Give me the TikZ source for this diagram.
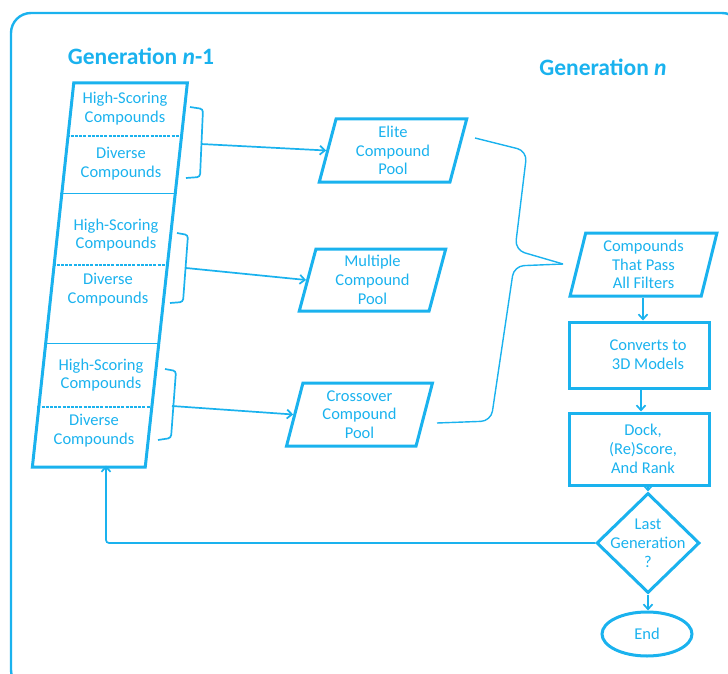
\documentclass[tikz,border=0pt]{standalone}
\usepackage{fontspec}
\setmainfont{Carlito}
\usetikzlibrary{shapes.geometric,arrows.meta,calc}
\definecolor{flow}{HTML}{1AB2EE}
\begin{document}
\begin{tikzpicture}[x=1pt,y=-1pt,
  every node/.style={text=flow,font=\fontsize{16.5}{18.8}\selectfont,align=center},
  box/.style={draw=flow,line width=3pt},
  pool/.style={box,trapezium,trapezium stretches=true,inner sep=0pt,
    trapezium left angle=77.5,trapezium right angle=102.5},
  stage/.style={box,rectangle,inner sep=0pt},
  head/.style={font=\fontsize{23.5}{26}\selectfont\bfseries},
  conn/.style={draw=flow,line width=1.7pt,rounded corners=3pt},
  arr/.style={conn,-{Straight Barb[length=5pt,width=9pt]}},
  sep/.style={draw=flow,line width=1.5pt},
  dsep/.style={sep,dash pattern=on 3pt off 1.2pt}]
\useasboundingbox (0,0) rectangle (728,674);

% outer frame
\draw[flow,line width=2.4pt,rounded corners=20pt] (11,13) rectangle (742,690);

% headings
\node[head] (hprev) at (141,56) {Generation \textit{n}-1};
\node[head] (hnext) at (603,67) {Generation \textit{n}};

% parent generation column
\node[box,trapezium,trapezium stretches=true,inner sep=2pt,
  trapezium left angle=84.2,trapezium right angle=95.9,
  minimum width=155pt,minimum height=384pt] (col) at (109.5,275) {\strut};
\foreach \yy/\st in {137/dsep,194/sep,265/dsep,343/sep,406/dsep}{
  \draw[\st] ($(col.top left corner)!{(\yy-83)/384}!(col.bottom left corner)$)
    -- ($(col.top right corner)!{(\yy-83)/384}!(col.bottom right corner)$);
}
\node (hs1) at (125,109) {High-Scoring\\Compounds};
\node (dv1) at (121,164) {Diverse\\Compounds};
\node (hs2) at (116,235) {High-Scoring\\Compounds};
\node (dv2) at (108,290) {Diverse\\Compounds};
\node (hs3) at (101,375) {High-Scoring\\Compounds};
\node (dv3) at (94,431) {Diverse\\Compounds};

% compound pools
\node[pool,minimum width=148pt,minimum height=63pt] (elite) at (393,150.5) {Elite\\Compound\\Pool};
\node[pool,minimum width=147pt,minimum height=62pt] (multi) at (372.5,280) {Multiple\\Compound\\Pool};
\node[pool,minimum width=147pt,minimum height=63pt] (cross) at (359.5,414.5) {Crossover\\Compound\\Pool};

% right-hand pipeline
\node[pool,minimum width=147pt,minimum height=63pt] (filt) at (643.5,264.5) {Compounds\\That Pass\\All Filters};
\node[stage,minimum width=140pt,minimum height=66pt] (conv) at (639,355) {\hspace*{18pt}Converts to\\\hspace*{18pt}3D Models};
\node[stage,minimum width=140pt,minimum height=72pt] (dock) at (639,449) {\hspace*{8pt}Dock,\\\hspace*{8pt}(Re)Score,\\\hspace*{8pt}And Rank};
\node[box,diamond,inner sep=0pt,minimum width=103pt,minimum height=100pt,
  label={[align=center]center:Last\\Generation\\?}] (last) at (648,543) {\strut};
\node[box,ellipse,inner sep=0pt,minimum width=90pt,minimum height=44pt] (end) at (647,634) {End};

% braces gathering each pair of sections
\coordinate (b1) at (201,144);
\draw[conn] (190,107) -- (203,109) -- (200,177) -- (186,178);
\draw[arr] (b1) -- (elite.west);
\coordinate (b2) at (186,268);
\draw[conn] (177,233) -- (188,235) -- (183,302) -- (170,303);
\draw[arr] (b2) -- (multi.west);
\coordinate (b3) at (172,406);
\draw[conn] (165,369) -- (176,371) -- (171,438) -- (158,440);
\draw[arr] (b3) -- (cross.west);

% brace merging the three pools
\coordinate (tip) at (563,264);
\draw[conn,line width=1.4pt,rounded corners=10pt] (475,138) -- (527,151) -- (515,250) -- (tip);
\draw[conn,line width=1.4pt,rounded corners=10pt] (tip) -- (514,266) -- (491,421) -- (437,423);

% pipeline arrows
\draw[arr] (filt.south -| 643,0) -- (conv.north -| 643,0);
\draw[arr] (conv.south -| 641,0) -- (dock.north -| 641,0);
\draw[arr] (dock.south -| last.north) -- (last.north);
\draw[arr] (last.south) -- (end.north -| last.south);
\draw[arr] (last.west) -| ([xshift=-3.5pt,yshift=3pt]col.south);
\end{tikzpicture}
\end{document}
